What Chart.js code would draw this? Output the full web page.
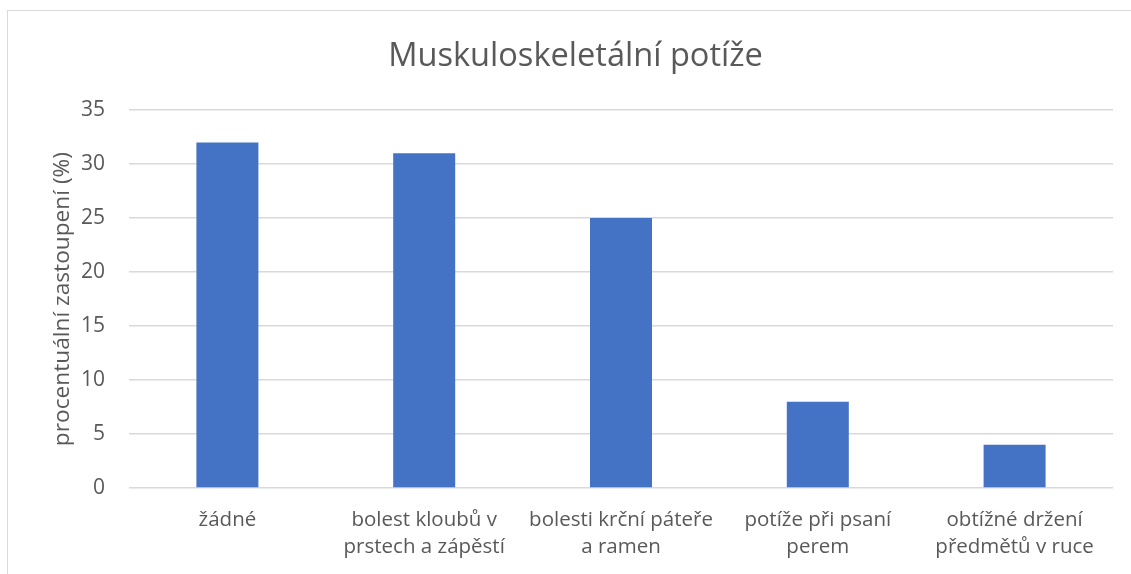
<!DOCTYPE html>
<html><head><meta charset="utf-8">
<script src="https://cdn.jsdelivr.net/npm/chart.js@4.4.0/dist/chart.umd.min.js"></script>
<style>
html,body{margin:0;padding:0;background:#fff;overflow:hidden;}
#wrap{position:relative;width:1131px;height:574px;}
#frame{position:absolute;left:7px;top:10px;width:1130px;height:600px;border:1.5px solid #d9d9d9;box-sizing:border-box;pointer-events:none;}
canvas{position:absolute;left:0;top:0;}
</style></head>
<body><div id="wrap"><canvas id="c" width="1131" height="574"></canvas><div id="frame"></div></div>
<script>
const categories = [["žádné"], ["bolest kloubů v", "prstech a zápěstí"], ["bolesti krční páteře", "a ramen"], ["potíže při psaní", "perem"], ["obtížné držení", "předmětů v ruce"]];
const values = [32, 31, 25, 8, 4];
const yTicks = [0, 5, 10, 15, 20, 25, 30, 35];
const FONT = "'Open Sans', sans-serif";
const TXT = '#595959';
new Chart(document.getElementById('c'), {
  type: 'bar',
  data: { labels: categories, datasets: [{ data: values, backgroundColor: '#4472C4', borderWidth: 0, barPercentage: 0.63, categoryPercentage: 0.5 }] },
  options: {
    responsive: false, animation: false,
    layout: { padding: { left: 38, right: 18, top: 0, bottom: 0 } },
    plugins: {
      legend: { display: false }, tooltip: { enabled: false },
      title: { display: true, text: 'Muskuloskeletální potíže', color: TXT, font: { family: FONT, size: 32.6, weight: 'normal', lineHeight: 1.2 }, padding: { top: 37, bottom: 34 } }
    },
    scales: {
      x: {
        grid: { display: false, drawTicks: false }, border: { display: false },
        ticks: { color: TXT, font: { family: FONT, size: 20.5, lineHeight: 1.35 }, padding: 18, maxRotation: 0, autoSkip: false },
        afterFit: s => { s.height = 86; }
      },
      y: {
        min: 0, max: 35,
        afterBuildTicks: s => { s.ticks = yTicks.map(v => ({ value: v })); },
        grid: { color: '#d9d9d9', lineWidth: 1.5, drawTicks: false }, border: { display: false },
        ticks: { color: TXT, font: { family: FONT, size: 21 }, padding: 24 },
        title: { display: true, text: 'procentuální zastoupení (%)', color: TXT, font: { family: FONT, size: 22.7, lineHeight: 1.2 }, padding: { top: 11, bottom: 0 } },
        afterFit: s => { s.width = 91; }
      }
    }
  }
});
</script></body></html>
